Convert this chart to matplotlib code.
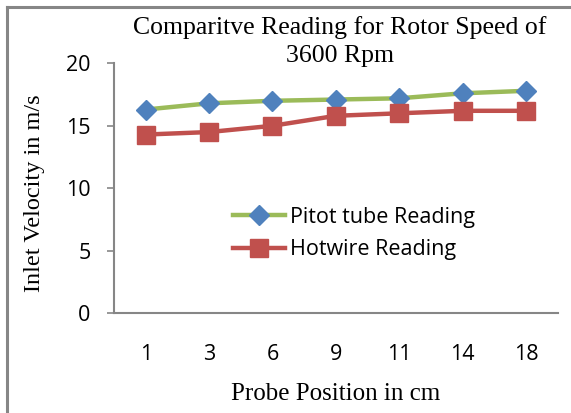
import matplotlib
matplotlib.use("Agg")
import matplotlib.pyplot as plt
from matplotlib.lines import Line2D

positions = ["1", "3", "6", "9", "11", "14", "18"]
pitot = [16.3, 16.8, 17.0, 17.1, 17.2, 17.6, 17.8]
hotwire = [14.3, 14.5, 15.0, 15.8, 16.0, 16.2, 16.2]
yticks = [0, 5, 10, 15, 20]

serif = "Liberation Serif"
sans = "Open Sans"
gray = "#868686"

fig = plt.figure(figsize=(5.71, 4.13), dpi=100)
ax = fig.add_axes([114 / 571, 1 - 313.3 / 413, (557.7 - 114) / 571, (313.3 - 63.3) / 413])

x = range(len(positions))
ax.plot(x, pitot, color="#9BBB59", lw=3.2, marker="D", ms=10,
        mfc="#4F81BD", mec="#4F81BD", label="Pitot tube Reading")
ax.plot(x, hotwire, color="#C0504D", lw=3.2, marker="s", ms=12.5,
        mfc="#C0504D", mec="#C0504D", label="Hotwire Reading")

ax.set_xlim(-0.5, len(positions) - 0.5)
ax.set_ylim(0, 20)
ax.set_xticks(list(x))
ax.set_xticklabels(positions, fontfamily=sans, fontsize=15.5)
ax.set_yticks(yticks)
ax.set_yticklabels([str(v) for v in yticks], fontfamily=sans, fontsize=15.5)
ax.tick_params(axis="x", length=0, pad=22)
ax.tick_params(axis="y", length=5, width=1.2, color=gray, pad=12)

for s in ["top", "right"]:
    ax.spines[s].set_visible(False)
for s in ["left", "bottom"]:
    ax.spines[s].set_color(gray)
    ax.spines[s].set_linewidth(1.5)

ax.legend(loc="center left", bbox_to_anchor=(233 / 571, 1 - 233.5 / 413),
          bbox_transform=fig.transFigure, frameon=False,
          prop={"family": sans, "size": 15.5}, handlelength=2.4,
          handletextpad=0.27, labelspacing=0.55, borderpad=0, borderaxespad=0)

fig.text(340 / 571, 1 - 41.5 / 413, "Comparitve Reading for Rotor Speed of\n3600 Rpm",
         ha="center", va="center", family=serif, fontsize=18.5, linespacing=1.35)
fig.text(35 / 571, 1 - 193 / 413, "Inlet Velocity in m/s", rotation=90,
         ha="center", va="center", family=serif, fontsize=17.5)
fig.text(336 / 571, 1 - 394 / 413, "Probe Position in cm",
         ha="center", va="center", family=serif, fontsize=18)

# chart frame (only left and top edges visible)
fig.add_artist(Line2D([7 / 571, 7 / 571], [0, 1 - 6.5 / 413], transform=fig.transFigure,
                      color=gray, lw=2.2))
fig.add_artist(Line2D([7 / 571, 1], [1 - 6.5 / 413, 1 - 6.5 / 413], transform=fig.transFigure,
                      color=gray, lw=2.2))

fig.savefig("out.png", dpi=100)
